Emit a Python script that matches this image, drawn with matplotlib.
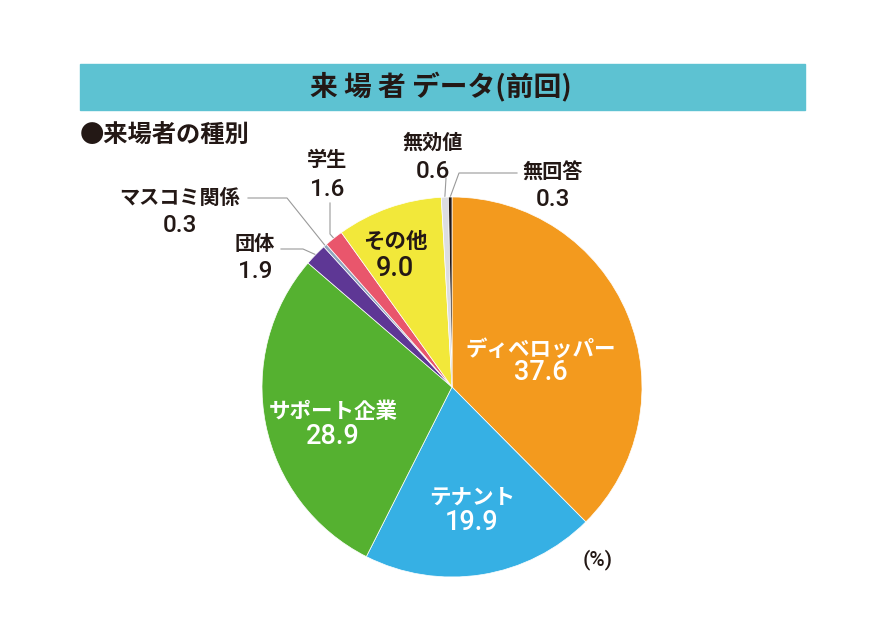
import numpy as np
import matplotlib.pyplot as plt
from matplotlib.patches import Rectangle

plt.rcParams['font.family'] = ['Noto Sans CJK JP', 'DejaVu Sans']

# data (%) clockwise from 12 o'clock
names = ['ディベロッパー', 'テナント', 'サポート企業', '団体', 'マスコミ関係',
         '学生', 'その他', '無効値', '無回答']
values = [37.6, 19.9, 28.9, 1.9, 0.3, 1.6, 9.0, 0.6, 0.3]
colors = ['#f39a1e', '#36b0e4', '#55b130', '#5e3795', '#8ea4bd',
          '#e9566c', '#f2e83a', '#dcdde0', '#231815']

title = '来 場 者 データ(前回)'
subtitle = '●来場者の種別'
unit = '(%)'

W, H = 888, 634
cx, cy, R = 452, 387, 190
dark = '#231815'
numfont = ['Roboto', 'Liberation Sans', 'DejaVu Sans']

# label placement: x, y of name, y of value, inside?
label_pos = {
    'ディベロッパー': (541, 349, 373, True),
    'テナント': (472, 497, 522, True),
    'サポート企業': (333, 411, 437, True),
    'その他': (395, 241, 268, True),
    '団体': (255, 244, 271, False),
    'マスコミ関係': (180, 197, 225, False),
    '学生': (327, 160, 189, False),
    '無効値': (433, 142, 171, False),
    '無回答': (553, 172, 200, False),
}
# leader elbows (pixel) for outside labels
elbows = {
    '団体': [(281, 249), (303, 249)],
    'マスコミ関係': [(248, 198), (287, 198)],
    '学生': [(330, 203), (330, 234)],
    '無効値': [(446, 178)],
    '無回答': [(517, 173), (459, 173)],
}

fig = plt.figure(figsize=(W / 100, H / 100), dpi=100)
ax = fig.add_axes([0, 0, 1, 1])

wedges, _ = ax.pie(values, colors=colors, startangle=-90, counterclock=True,
                   center=(cx, cy), radius=R,
                   wedgeprops=dict(edgecolor='white', linewidth=0.5))
ax.set_xlim(0, W)
ax.set_ylim(H, 0)
ax.set_aspect('equal')
ax.axis('off')

# title bar
ax.add_patch(Rectangle((80, 64), 725, 46, color='#5dc2d2', zorder=0))
ax.text(441, 87, title, ha='center', va='center', fontsize=20,
        fontweight='bold', color=dark)
ax.text(80, 136, subtitle, ha='left', va='center', fontsize=17.5,
        fontweight='bold', color=dark)
ax.text(598, 560, unit, ha='center', va='center', fontsize=15,
        color=dark, family=numfont, fontweight='medium')

for w, name, v in zip(wedges, names, values):
    x, yn, yv, inside = label_pos[name]
    tc = dark if (not inside or name == 'その他') else 'white'
    ax.text(x, yn, name, ha='center', va='center',
            fontsize=15.5 if inside else 14.5, fontweight='bold', color=tc)
    ax.text(x, yv, f'{v:.1f}', ha='center', va='center', family=numfont,
            fontsize=19.5 if inside else 17.5, color=tc, fontweight='medium')
    if not inside:
        mid = np.deg2rad((w.theta1 + w.theta2) / 2)
        ex, ey = cx + R * np.cos(mid), cy + R * np.sin(mid)
        pts = elbows[name] + [(ex, ey)]
        xs, ys = zip(*pts)
        ax.plot(xs, ys, color='#9a9a9a', lw=0.8, zorder=0.5)

fig.savefig('out.png', dpi=100)
